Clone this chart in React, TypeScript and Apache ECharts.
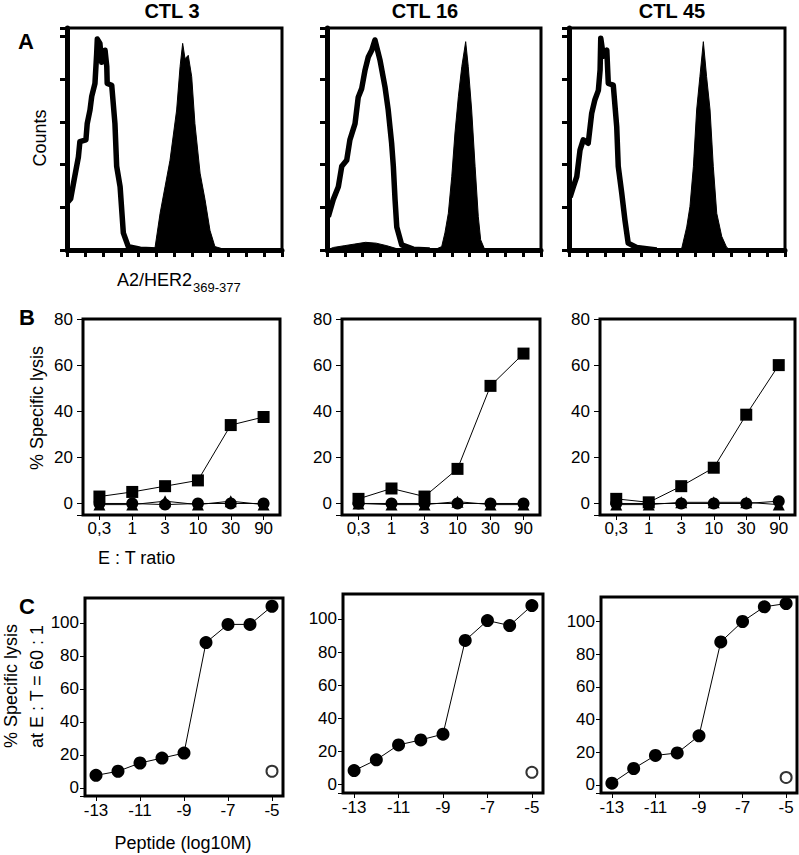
import React, { useEffect, useRef } from "react";
import * as echarts from "echarts";

// ---------- titles ----------
const ctlNames = ["CTL 3", "CTL 16", "CTL 45"];

// ---------- Panel A: flow cytometry histograms [channel (0-100), counts] ----------
const openHistCTL3: number[][] = [
  [0, 55], [1.7, 60], [3.3, 82], [5.3, 109], [6.0, 127], [8.8, 129], [9.4, 148], [10.7, 164],
  [11.5, 180], [13.0, 195], [13.8, 230], [14.1, 247], [15.3, 242], [16.1, 220], [17.7, 234],
  [18.5, 215], [18.7, 195], [20.8, 193], [22.3, 148], [23.1, 98], [24.7, 74], [26.2, 20],
  [28.5, 4], [34, 1], [42, 0],
];
const filledHistCTL3: number[][] = [
  [40, 0], [40.9, 2], [43.3, 43], [45.6, 74], [47.9, 105], [51, 164], [52.6, 215], [53.8, 242],
  [54.9, 224], [56.4, 228], [58, 203], [59.5, 148], [61.9, 90], [64.2, 59], [66.5, 23],
  [68.8, 4], [74.3, 0],
];
const openHistCTL16: number[][] = [
  [0.6, 39], [2.9, 59], [5.3, 74], [6.9, 98], [9.2, 105], [10.7, 129], [13.1, 148], [14.6, 179],
  [16.2, 189], [17.8, 211], [19.3, 226], [20.9, 234], [22.4, 246], [24.8, 222], [27.1, 191],
  [28.6, 164], [30.2, 125], [31.0, 98], [31.8, 59], [32.6, 27], [34.9, 6], [40.3, 1], [48, 0],
];
const filledHistCTL16: number[][] = [
  [0, 0], [3, 3], [8, 5], [13, 7], [18, 9], [23, 8], [28, 5], [32, 2], [36, 0], [50, 0],
  [53.6, 4], [55.1, 20], [56.7, 43], [58.3, 86], [59.8, 137], [61.4, 180], [63.0, 215],
  [64.8, 244], [66.0, 215], [67.6, 164], [69.2, 98], [70.7, 39], [71.8, 12], [73.8, 0],
];
const openHistCTL45: number[][] = [
  [0.5, 62], [2.0, 74], [3.6, 86], [5.1, 117], [6.6, 129], [8.9, 125], [10.5, 160], [12.0, 176],
  [13.6, 187], [14.4, 211], [14.7, 248], [15.9, 227], [17.5, 234], [18.2, 195], [20.5, 193],
  [22.1, 144], [22.8, 98], [24.4, 67], [25.9, 35], [27.4, 8], [31.3, 3], [40.6, 0],
];
const filledHistCTL45: number[][] = [
  [50, 0], [52.2, 2], [54.5, 27], [56.0, 51], [57.6, 98], [59.1, 164], [60.6, 203], [62.2, 244],
  [63.7, 203], [65.3, 164], [66.8, 98], [68.4, 43], [70.7, 16], [73.0, 3], [75, 0],
];

// ---------- Panel B: % specific lysis vs E:T ratio ----------
const etRatios = ["0,3", "1", "3", "10", "30", "90"];
const squaresCTL3 = [3, 5, 7.5, 10, 34, 37.5];
const circlesCTL3 = [0, 0, -0.5, 0, 0, 0];
const trianglesCTL3 = [-0.5, -0.5, 1, -0.5, 1, -0.5];
const squaresCTL16 = [2, 6.5, 3, 15, 51, 65];
const circlesCTL16 = [0, 0, 0, 0, 0, 0];
const trianglesCTL16 = [0, -0.5, -0.5, 0.8, -0.5, -0.5];
const squaresCTL45 = [2, 0.5, 7.5, 15.5, 38.5, 60];
const circlesCTL45 = [0, 0, 0, 0, 0, 1];
const trianglesCTL45 = [-0.5, -0.5, 0.5, 0.5, 0.5, -0.5];
const bYTicks = [-5, 0, 20, 40, 60, 80];
const bYLabels = [0, 20, 40, 60, 80];

// ---------- Panel C: % specific lysis vs peptide concentration ----------
const peptideLog = [-13, -12, -11, -10, -9, -8, -7, -6, -5];
const peptideLysisCTL3 = [7.5, 10, 15, 18, 21, 88, 99, 99, 110];
const peptideLysisCTL16 = [8.5, 15, 24, 27, 30.5, 87, 99, 96, 108];
const peptideLysisCTL45 = [1, 10, 18, 19.5, 30, 87.5, 100, 109, 111];
const controlLog = -5;
const controlLysis = [10, 7.5, 4.5];
const cYTicks = [-5, 0, 20, 40, 60, 80, 100];
const cYLabels = [0, 20, 40, 60, 80, 100];
const cXLabels = [-13, -11, -9, -7, -5];

const FONT = "'Liberation Sans', Arial, Helvetica, sans-serif";
const BLACK = "#000";
const TICK_FONT = 17;

function buildOption() {
  const gridsA = [
    { left: 67, top: 28, width: 215, height: 222 },
    { left: 327, top: 28, width: 214, height: 222 },
    { left: 569, top: 28, width: 216, height: 222 },
  ];
  const gridsB = [
    { left: 83, top: 319, width: 197, height: 196 },
    { left: 342, top: 319, width: 198, height: 196 },
    { left: 600, top: 319, width: 195, height: 196 },
  ];
  const gridsC = [
    { left: 85, top: 598, width: 198, height: 198 },
    { left: 343, top: 594, width: 200, height: 199 },
    { left: 601, top: 597, width: 196, height: 196 },
  ];
  const grid = [...gridsA, ...gridsB, ...gridsC].map((g) => ({
    ...g,
    show: true,
    borderColor: BLACK,
    borderWidth: 3,
    backgroundColor: "transparent",
    containLabel: false,
  }));

  const xAxis: any[] = [];
  const yAxis: any[] = [];
  const series: any[] = [];

  const openH = [openHistCTL3, openHistCTL16, openHistCTL45];
  const fillH = [filledHistCTL3, filledHistCTL16, filledHistCTL45];
  for (let i = 0; i < 3; i++) {
    xAxis.push({
      type: "value", gridIndex: i, min: 0, max: 100, interval: 100 / 12,
      axisLine: { show: true, onZero: false, lineStyle: { color: BLACK, width: 5 } },
      axisTick: { show: true, length: 7, lineStyle: { color: BLACK, width: 3 } },
      axisLabel: { show: false }, splitLine: { show: false },
    });
    yAxis.push({
      type: "value", gridIndex: i, min: 0, max: 260, interval: 50,
      axisLine: { show: true, onZero: false, lineStyle: { color: BLACK, width: 5 } },
      axisTick: { show: true, length: 7, lineStyle: { color: BLACK, width: 3 } },
      axisLabel: { show: false }, splitLine: { show: false },
    });
    series.push({
      type: "line", xAxisIndex: i, yAxisIndex: i, data: fillH[i], showSymbol: false,
      symbol: "none", lineStyle: { color: BLACK, width: 1 },
      areaStyle: { color: BLACK, opacity: 1 }, z: 2,
    });
    series.push({
      type: "line", xAxisIndex: i, yAxisIndex: i, data: openH[i], showSymbol: false,
      symbol: "none", lineStyle: { color: BLACK, width: 5.5, join: "round" }, z: 3,
    });
  }

  const sq = [squaresCTL3, squaresCTL16, squaresCTL45];
  const ci = [circlesCTL3, circlesCTL16, circlesCTL45];
  const tr = [trianglesCTL3, trianglesCTL16, trianglesCTL45];
  for (let k = 0; k < 3; k++) {
    const i = 3 + k;
    xAxis.push({
      type: "category", gridIndex: i, data: etRatios, boundaryGap: true,
      axisLine: { show: false, onZero: false },
      axisTick: { show: true, alignWithLabel: true, length: 5, lineStyle: { color: BLACK, width: 1 } },
      axisLabel: { fontSize: TICK_FONT, fontFamily: FONT, color: BLACK, margin: 5 },
      splitLine: { show: false },
    });
    yAxis.push({
      type: "value", gridIndex: i, min: -5, max: 80,
      axisLine: { show: false, onZero: false },
      axisTick: { show: true, length: 6, customValues: bYTicks, lineStyle: { color: BLACK, width: 1 } },
      axisLabel: { fontSize: TICK_FONT, fontFamily: FONT, color: BLACK, margin: 10, customValues: bYLabels },
      splitLine: { show: false },
    });
    const common = {
      type: "line", xAxisIndex: i, yAxisIndex: i, symbolSize: 12,
      lineStyle: { color: BLACK, width: 1 }, itemStyle: { color: BLACK }, z: 3,
    };
    series.push({ ...common, data: tr[k], symbol: "triangle" });
    series.push({ ...common, data: ci[k], symbol: "circle" });
    series.push({ ...common, data: sq[k], symbol: "rect" });
  }

  const pl = [peptideLysisCTL3, peptideLysisCTL16, peptideLysisCTL45];
  for (let k = 0; k < 3; k++) {
    const i = 6 + k;
    xAxis.push({
      type: "value", gridIndex: i, min: -13.5, max: -4.5,
      axisLine: { show: false, onZero: false },
      axisTick: { show: true, length: 5, customValues: cXLabels, lineStyle: { color: BLACK, width: 1 } },
      axisLabel: { fontSize: TICK_FONT, fontFamily: FONT, color: BLACK, margin: 6, customValues: cXLabels },
      splitLine: { show: false },
    });
    yAxis.push({
      type: "value", gridIndex: i, min: -5, max: 115,
      axisLine: { show: false, onZero: false },
      axisTick: { show: true, length: 5, customValues: cYTicks, lineStyle: { color: BLACK, width: 1 } },
      axisLabel: { fontSize: TICK_FONT, fontFamily: FONT, color: BLACK, margin: 6, customValues: cYLabels },
      splitLine: { show: false },
    });
    series.push({
      type: "line", xAxisIndex: i, yAxisIndex: i, symbol: "circle", symbolSize: 13,
      data: peptideLog.map((x, j) => [x, pl[k][j]]),
      lineStyle: { color: BLACK, width: 1 }, itemStyle: { color: BLACK }, z: 3,
    });
    series.push({
      type: "scatter", xAxisIndex: i, yAxisIndex: i, symbol: "circle", symbolSize: 11,
      data: [[controlLog, controlLysis[k]]],
      itemStyle: { color: "#fff", borderColor: BLACK, borderWidth: 2 }, z: 4,
    });
  }

  const text = (x: number, y: number, t: string, o: any = {}) => ({
    type: "text", x, y, rotation: o.rotation || 0, silent: true, z: 10,
    style: {
      text: t, fill: BLACK, fontFamily: FONT, fontSize: o.size || 18,
      fontWeight: o.bold ? "bold" : "normal",
      align: o.align || "center", verticalAlign: o.valign || "middle",
      textAlign: o.align || "center", textVerticalAlign: o.valign || "middle",
    },
  });

  const graphic = [
    text(172, 11, ctlNames[0], { bold: true, size: 20 }),
    text(425, 11, ctlNames[1], { bold: true, size: 20 }),
    text(672, 11, ctlNames[2], { bold: true, size: 20 }),
    text(26, 41, "A", { bold: true, size: 22 }),
    text(27, 317, "B", { bold: true, size: 22 }),
    text(27, 606, "C", { bold: true, size: 22 }),
    text(40, 138, "Counts", { rotation: Math.PI / 2 }),
    text(117, 280, "A2/HER2", { align: "left" }),
    text(193, 287, "369-377", { align: "left", size: 13 }),
    text(37, 408, "% Specific lysis", { rotation: Math.PI / 2 }),
    text(98, 558, "E : T ratio", { align: "left" }),
    text(11, 748, "% Specific lysis", { rotation: Math.PI / 2, align: "left" }),
    text(37, 748, "at E : T = 60 : 1", { rotation: Math.PI / 2, align: "left" }),
    text(183, 843, "Peptide (log10M)"),
  ];

  return {
    animation: false,
    backgroundColor: "#fff",
    textStyle: { fontFamily: FONT },
    grid, xAxis, yAxis, series, graphic,
  };
}

export default function App() {
  const ref = useRef<HTMLDivElement>(null);
  useEffect(() => {
    if (!ref.current) return;
    const chart = echarts.init(ref.current, undefined, { renderer: "svg" });
    chart.setOption(buildOption() as any);
    return () => chart.dispose();
  }, []);
  return (
    <div
      ref={ref}
      style={{ position: "absolute", left: 0, top: 0, width: 799, height: 855, background: "#fff" }}
    />
  );
}
